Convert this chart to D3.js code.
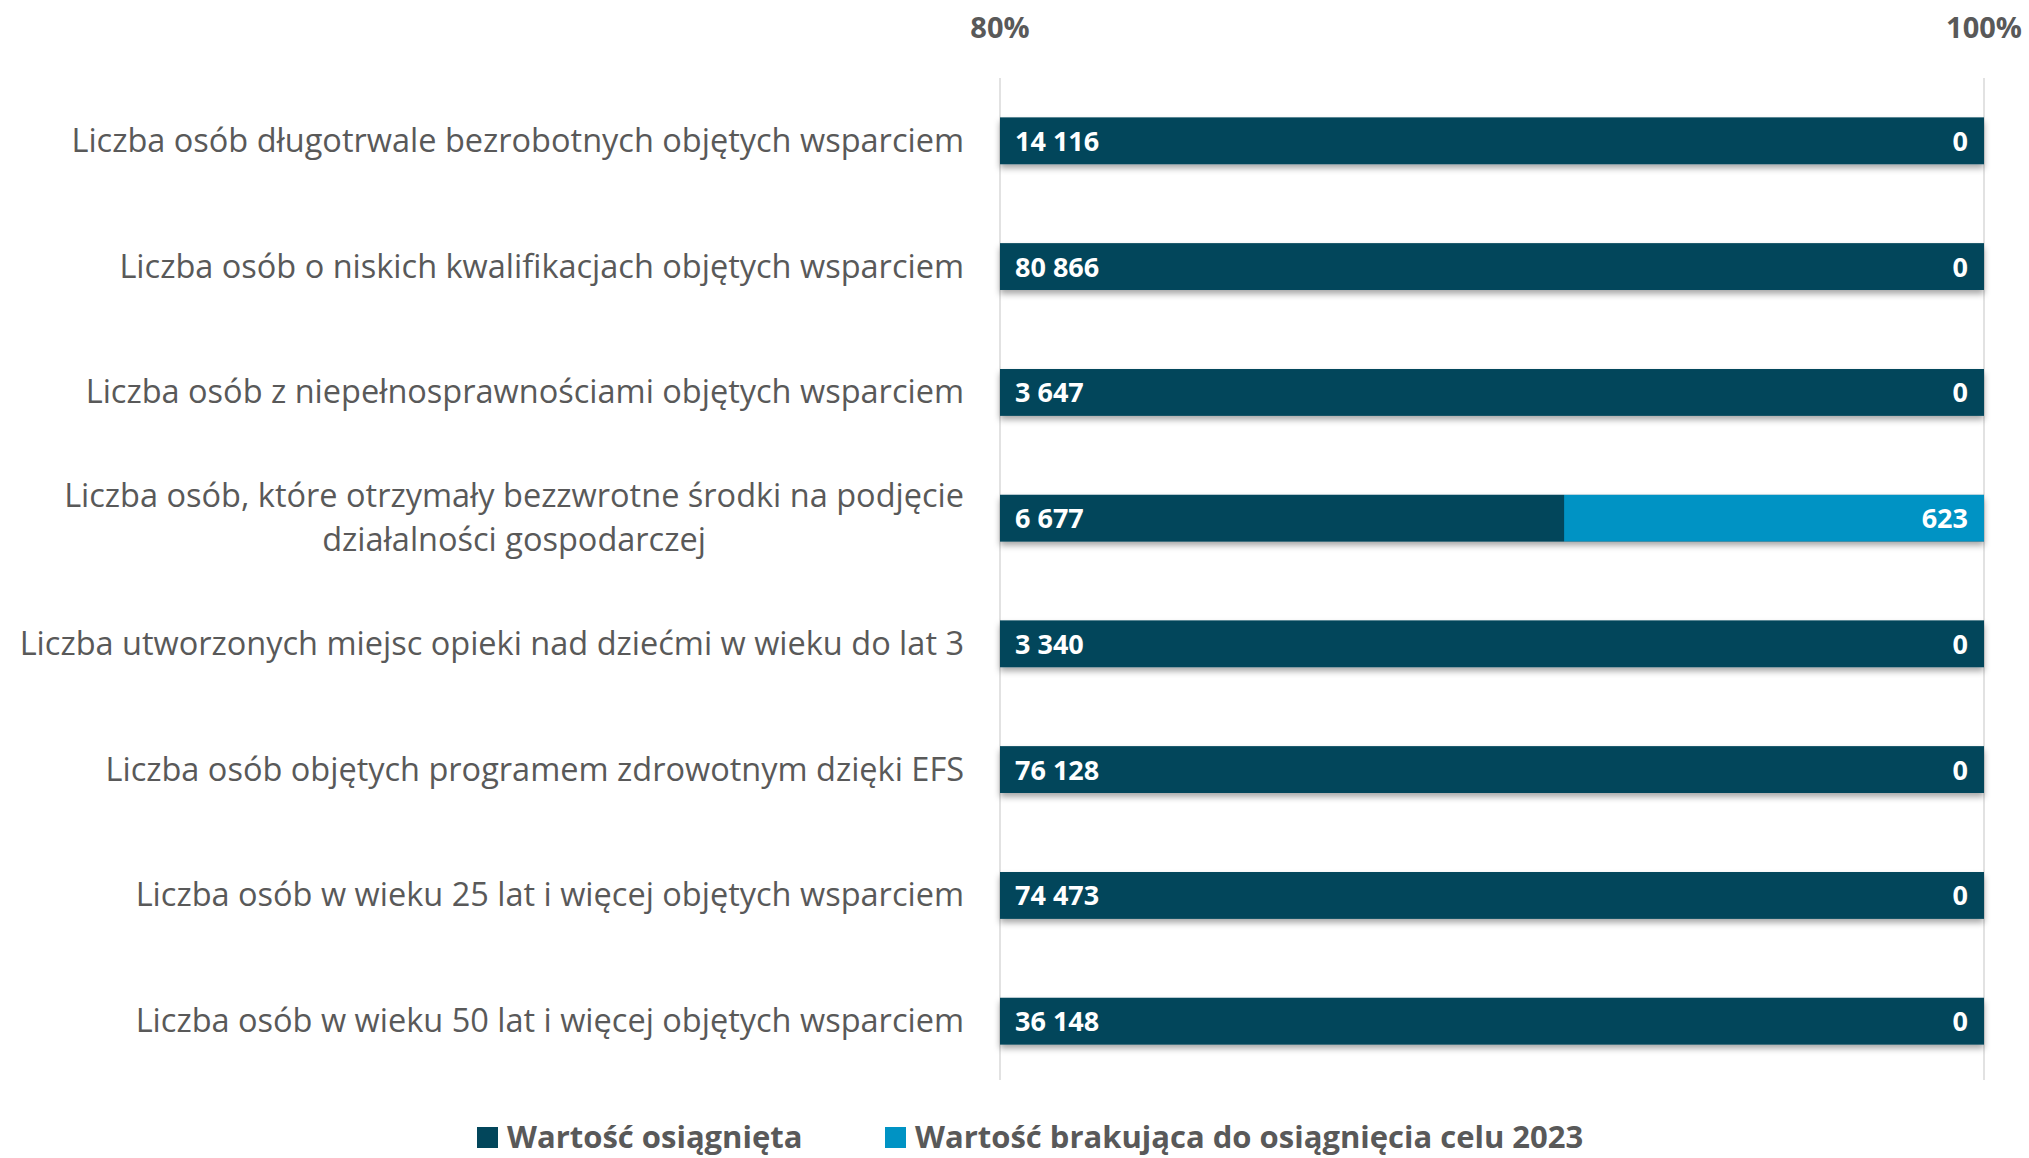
<!DOCTYPE html>
<html>
<head>
<meta charset="utf-8">
<script src="https://cdn.jsdelivr.net/npm/d3@7"></script>
<style>
  body { margin: 0; background: #fff; }
  text { font-family: "Open Sans", "Noto Sans", sans-serif; }
</style>
</head>
<body>
<div id="chart"></div>
<script>
// dane z wykresu
var categories = [
    ["Liczba osób długotrwale bezrobotnych objętych wsparciem"],
    ["Liczba osób o niskich kwalifikacjach objętych wsparciem"],
    ["Liczba osób z niepełnosprawnościami objętych wsparciem"],
    ["Liczba osób, które otrzymały bezzwrotne środki na podjęcie", "działalności gospodarczej"],
    ["Liczba utworzonych miejsc opieki nad dziećmi w wieku do lat 3"],
    ["Liczba osób objętych programem zdrowotnym dzięki EFS"],
    ["Liczba osób w wieku 25 lat i więcej objętych wsparciem"],
    ["Liczba osób w wieku 50 lat i więcej objętych wsparciem"]
];
var achieved = [14116, 80866, 3647, 6677, 3340, 76128, 74473, 36148];
var missing = [0, 0, 0, 623, 0, 0, 0, 0];
var seriesNames = ["Wartość osiągnięta", "Wartość brakująca do osiągnięcia celu 2023"];
var tickValues = [80, 100];

var colors = ["#02465b", "#0093c4"];
var width = 2029, height = 1158;
var fmt = function(v) { return d3.format(",")(v).replace(/,/g, " "); };

var svg = d3.select('#chart').append('svg')
        .attr('width', width)
        .attr('height', height);

var defs = svg.append('defs');
var f = defs.append('filter').attr('id', 'shadow')
        .attr('x', '-5%').attr('y', '-30%').attr('width', '110%').attr('height', '180%');
f.append('feDropShadow')
        .attr('dx', 0).attr('dy', 4).attr('stdDeviation', 3)
        .attr('flood-color', '#000').attr('flood-opacity', 0.35);

var x = d3.scaleLinear().domain([80, 100]).range([1000, 1984]);
var y = d3.scaleBand().domain(d3.range(categories.length))
        .range([78, 1084]).paddingInner(0.63).paddingOuter(0.315);

// linie siatki
svg.selectAll('line.grid')
        .data(tickValues).enter()
        .append('line')
        .attr('x1', d => x(d)).attr('x2', d => x(d))
        .attr('y1', 78).attr('y2', 1080)
        .attr('stroke', '#d9d9d9').attr('stroke-width', 1.5);

// etykiety osi na gorze
svg.selectAll('text.tick')
        .data(tickValues).enter()
        .append('text')
        .attr('x', d => x(d)).attr('y', 38)
        .attr('text-anchor', 'middle')
        .attr('font-size', 29).attr('font-weight', 'bold')
        .attr('fill', '#595959')
        .text(d => d + '%');

// pasy
var rows = categories.map((c, i) => {
    var pct = achieved[i] / (achieved[i] + missing[i]) * 100;
    return {i: i, a: achieved[i], m: missing[i], pct: pct};
});

var g = svg.selectAll('g.row').data(rows).enter()
        .append('g').attr('class', 'row')
        .attr('transform', d => 'translate(0,' + y(d.i) + ')');

g.append('rect')
        .attr('x', x(80)).attr('width', d => x(100) - x(80))
        .attr('height', y.bandwidth())
        .attr('fill', colors[0])
        .attr('filter', 'url(#shadow)');
g.append('rect')
        .attr('x', x(80)).attr('width', d => x(d.pct) - x(80))
        .attr('height', y.bandwidth())
        .attr('fill', colors[0]);
g.append('rect')
        .attr('x', d => x(d.pct)).attr('width', d => x(100) - x(d.pct))
        .attr('height', y.bandwidth())
        .attr('fill', colors[1]);

g.append('text')
        .attr('x', x(80) + 15).attr('y', y.bandwidth() / 2 + 10)
        .attr('font-size', 27).attr('font-weight', 'bold').attr('fill', '#fff')
        .text(d => fmt(d.a));
g.append('text')
        .attr('x', x(100) - 16).attr('y', y.bandwidth() / 2 + 10)
        .attr('text-anchor', 'end')
        .attr('font-size', 27).attr('font-weight', 'bold').attr('fill', '#fff')
        .text(d => fmt(d.m));

// etykiety kategorii
var labelRight = 964, lineH = 44;
categories.forEach((lines, i) => {
    var cy = y(i) + y.bandwidth() / 2;
    var t = svg.append('text')
            .attr('font-size', 32.5).attr('fill', '#595959')
            .attr('text-anchor', 'middle');
    lines.forEach((l, k) => {
        t.append('tspan').attr('x', 0)
                .attr('y', cy + 11 + (k - (lines.length - 1) / 2) * lineH)
                .text(l);
    });
    var w = t.node().getBBox().width;
    t.selectAll('tspan').attr('x', labelRight - w / 2);
});

// legenda
var leg = svg.append('g');
var legX = [477, 885];
seriesNames.forEach((n, i) => {
    leg.append('rect')
            .attr('x', legX[i]).attr('y', 1127)
            .attr('width', 21).attr('height', 21)
            .attr('fill', colors[i]);
    leg.append('text')
            .attr('x', legX[i] + 30).attr('y', 1148)
            .attr('font-size', 31).attr('font-weight', 'bold')
            .attr('fill', '#595959')
            .text(n);
});
</script>
</body>
</html>
